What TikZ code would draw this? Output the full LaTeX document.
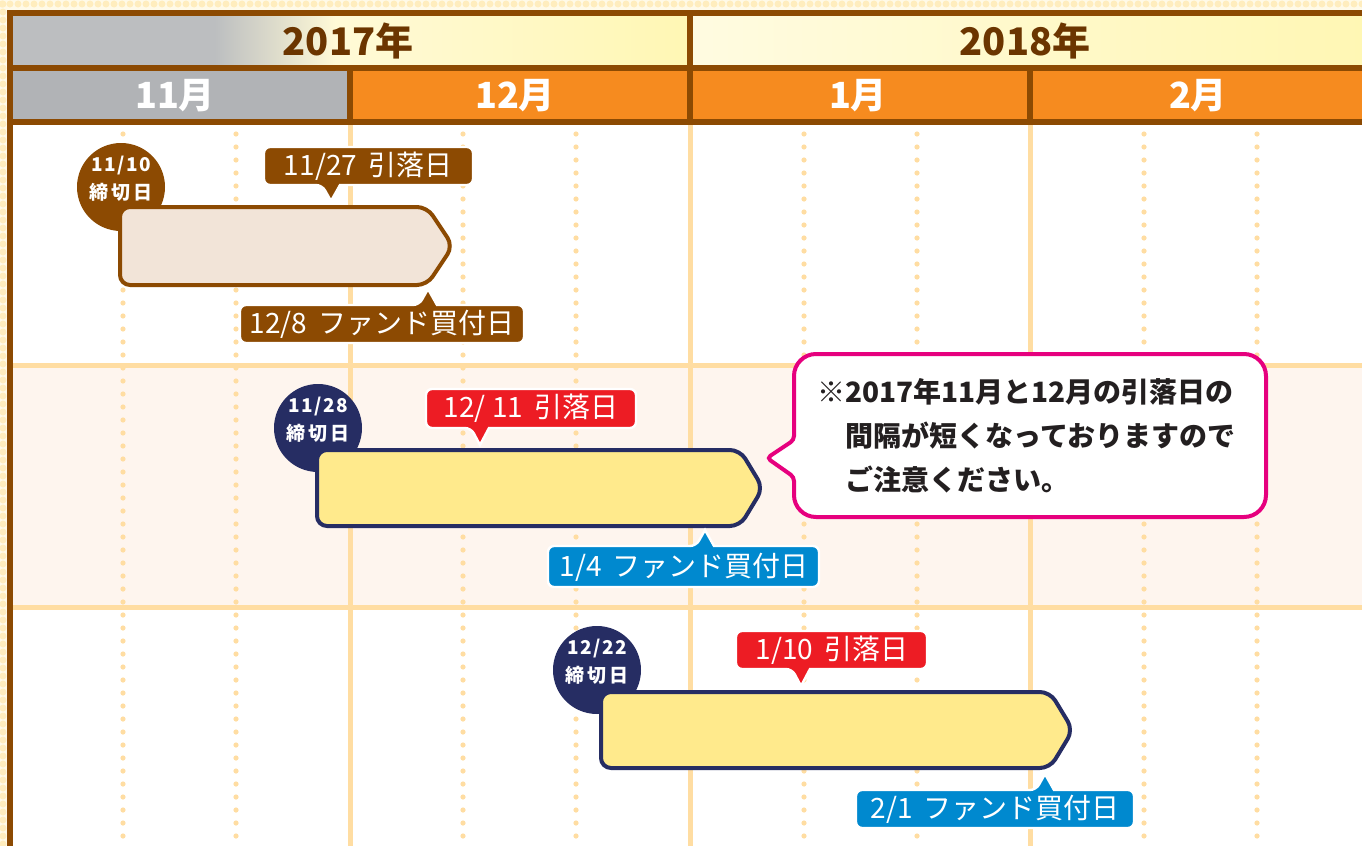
\documentclass[tikz,border=0pt]{standalone}
\usepackage{fontspec}
\setmainfont{Noto Sans CJK JP}
\usepackage{xcolor}
\usepackage{tikz}
\usetikzlibrary{positioning,calc}

\definecolor{framec}{RGB}{140,74,2}
\definecolor{yeartext}{RGB}{107,53,0}
\definecolor{hgray}{RGB}{188,190,192}
\definecolor{mgray}{RGB}{177,179,182}
\definecolor{creamc}{RGB}{255,250,215}
\definecolor{yelc}{RGB}{255,247,180}
\definecolor{cream2}{RGB}{255,251,225}
\definecolor{orangec}{RGB}{246,139,31}
\definecolor{gridc}{RGB}{255,221,162}
\definecolor{row2c}{RGB}{254,245,238}
\definecolor{margc}{RGB}{255,250,232}
\definecolor{margdot}{RGB}{255,237,190}
\definecolor{brownc}{RGB}{140,74,2}
\definecolor{pbrown}{RGB}{242,228,216}
\definecolor{navyc}{RGB}{38,45,99}
\definecolor{yboxc}{RGB}{255,234,140}
\definecolor{redc}{RGB}{237,28,36}
\definecolor{bluec}{RGB}{0,137,207}
\definecolor{pinkc}{RGB}{230,0,126}
\definecolor{textc}{RGB}{35,31,32}

\begin{document}
\begin{tikzpicture}[x=0.5pt, y=-0.5pt,
    gridline/.style={draw=gridc, line width=2.5pt},
    dotline/.style={draw=gridc, line width=2.6pt, line cap=round, dash pattern=on 0pt off 6.5pt},
    frameline/.style={draw=framec, line width=3pt},
    yeartitle/.style={text=yeartext, font=\fontsize{19}{19}\selectfont\bfseries},
    monthtitle/.style={text=white, font=\fontsize{18}{18}\selectfont\bfseries},
    daycircle/.style={circle, minimum size=44pt, inner sep=0pt},
    circtext/.style={text=white, align=center, inner sep=0pt, font=\fontsize{9.5}{14}\selectfont\bfseries},
    termbox/.style={line width=2pt, rounded corners=5pt},
    tagshape/.style={draw=white, line width=1.2pt},
    tagtext/.style={text=white, inner sep=0pt, font=\fontsize{14}{14}\selectfont}]
    \useasboundingbox (0,0) rectangle (1362,846);

    % outer margin
    \fill[margc] (0,0) rectangle (1362,846);
    \draw[margdot, line width=3.5pt, line cap=round, dash pattern=on 0pt off 4pt] (2,4) -- (1362,4);
    \draw[margdot, line width=3.5pt, line cap=round, dash pattern=on 0pt off 4pt] (3,4) -- (3,846);

    % body rows
    \fill[white] (10,125) rectangle (1362,846);
    \fill[row2c] (10,365) rectangle (1362,607);
    \foreach \xx in {123,236,463,576,804,917,1144,1257}
        \draw[dotline] (\xx,134) -- (\xx,846);
    \foreach \xx in {350,690,1030}
        \draw[gridline] (\xx,125) -- (\xx,846);
    \draw[gridline] (12,365) -- (1362,365);
    \draw[gridline] (12,607) -- (1362,607);

    % year row
    \fill[hgray] (10,15) rectangle (215,66);
    \shade[left color=hgray, right color=creamc] (215,15) rectangle (335,66);
    \shade[left color=creamc, right color=yelc] (335,15) rectangle (690,66);
    \shade[left color=cream2, right color=yelc] (690,15) rectangle (1362,66);
    \node[yeartitle] (y17) at (348,41) {2017年};
    \node[yeartitle] (y18) at (1025,41) {2018年};

    % month row
    \fill[mgray] (10,70) rectangle (350,120);
    \fill[orangec] (350,70) rectangle (1362,120);
    \node[monthtitle] (m11) at (175,96) {11月};
    \node[monthtitle] (m12) at (515,96) {12月};
    \node[monthtitle] (m01) at (858,96) {1月};
    \node[monthtitle] (m02) at (1198,96) {2月};

    % frame
    \draw[frameline] (10,846) -- (10,12.5) -- (1362,12.5);
    \draw[frameline] (10,68) -- (1362,68);
    \draw[frameline] (10,122) -- (1362,122);
    \draw[frameline] (690,12) -- (690,122);
    \draw[frameline] (350,68) -- (350,122);
    \draw[frameline] (1030,68) -- (1030,122);

    % November term
    \node[daycircle, fill=brownc] (c1) at (121,187) {};
    \node[circtext] (c1t) at (121,179) {\addfontfeatures{LetterSpace=8}11/10\\締\,切\,日};
    \draw[termbox, draw=brownc, fill=pbrown] (120,207) -- (427,207) -- (453,246) -- (427,285) -- (120,285) -- cycle;
    \filldraw[tagshape, fill=brownc] (331,201) -- (340,185) [rounded corners=3pt] -- (473,185) -- (473,147) -- (264,147) -- (264,185) -- (322,185) [sharp corners] -- cycle;
    \node[tagtext] (t1) at (368,166) {11/27\, 引落日};
    \filldraw[tagshape, fill=brownc] (428,289) -- (437,305) [rounded corners=3pt] -- (524,305) -- (524,343) -- (240,343) -- (240,305) -- (419,305) [sharp corners] -- cycle;
    \node[tagtext] (t2) at (382,324) {12/8\, ファンド買付日};

    % December term
    \node[daycircle, fill=navyc] (c2) at (318,428) {};
    \node[circtext] (c2t) at (318,420) {\addfontfeatures{LetterSpace=8}11/28\\締\,切\,日};
    \draw[termbox, draw=navyc, fill=yboxc] (317,450) -- (740,450) -- (763,488) -- (740,526) -- (317,526) -- cycle;
    \filldraw[tagshape, fill=redc] (480,445) -- (489,428) [rounded corners=3pt] -- (636,428) -- (636,389) -- (426,389) -- (426,428) -- (471,428) [sharp corners] -- cycle;
    \node[tagtext] (t3) at (531,408) {12/ 11\, 引落日};
    \filldraw[tagshape, fill=bluec] (705,530) -- (714,546) [rounded corners=3pt] -- (819,546) -- (819,587) -- (548,587) -- (548,546) -- (696,546) [sharp corners] -- cycle;
    \node[tagtext] (t4) at (684,567) {1/4\, ファンド買付日};

    % January term
    \node[daycircle, fill=navyc] (c3) at (597,670) {};
    \node[circtext] (c3t) at (597,662) {\addfontfeatures{LetterSpace=8}12/22\\締\,切\,日};
    \draw[termbox, draw=navyc, fill=yboxc] (601,692) -- (1050,692) -- (1073,730) -- (1050,768) -- (601,768) -- cycle;
    \filldraw[tagshape, fill=redc] (801,686) -- (810,669) [rounded corners=3pt] -- (927,669) -- (927,631) -- (736,631) -- (736,669) -- (792,669) [sharp corners] -- cycle;
    \node[tagtext] (t5) at (832,650) {1/10\, 引落日};
    \filldraw[tagshape, fill=bluec] (1045,774) -- (1054,790) [rounded corners=3pt] -- (1134,790) -- (1134,828) -- (856,828) -- (856,790) -- (1036,790) [sharp corners] -- cycle;
    \node[tagtext] (t6) at (995,809) {2/1\, ファンド買付日};

    % note bubble
    \draw[pinkc, line width=2pt, fill=white] (767,458) [rounded corners=2pt] -- (794,440) [rounded corners=11pt] -- (794,354) -- (1266,354) -- (1266,517) -- (794,517) [rounded corners=2pt] -- (794,477) -- cycle;
    \node[anchor=north west, align=left, inner sep=0pt, text=textc, font=\fontsize{14}{22}\selectfont\bfseries] (note) at (817,378)
        {※2017年11月と12月の引落日の\\\phantom{※}間隔が短くなっておりますので\\\phantom{※}ご注意ください。};
\end{tikzpicture}
\end{document}
